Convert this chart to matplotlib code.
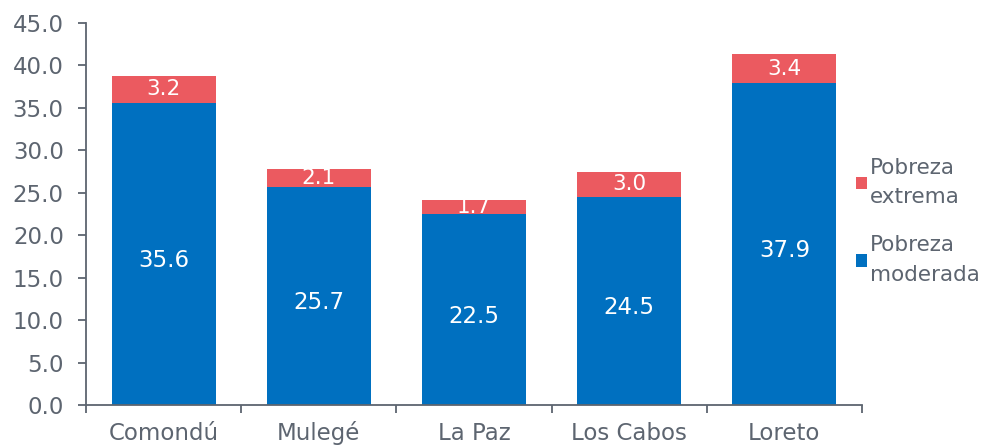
import matplotlib
matplotlib.use("Agg")
import matplotlib.pyplot as plt
import matplotlib.transforms as mtransforms
import numpy as np

plt.rcParams['font.family'] = ['DejaVu Sans']

municipios = ["Comondú", "Mulegé", "La Paz", "Los Cabos", "Loreto"]
moderada = [35.6, 25.7, 22.5, 24.5, 37.9]
extrema = [3.2, 2.1, 1.7, 3.0, 3.4]
yticks = np.arange(0, 50, 5)

azul = "#0070C0"
rojo = "#EB5A60"
gris = "#5D6570"

fig = plt.figure(figsize=(9.99, 4.47), dpi=100)
ax = fig.add_axes([86 / 999, 42 / 447, 776 / 999, 382 / 447])

x = np.arange(len(municipios))
b1 = ax.bar(x, moderada, width=0.67, color=azul, label="Pobreza\nmoderada")
b2 = ax.bar(x, extrema, width=0.67, bottom=moderada, color=rojo, label="Pobreza\nextrema")

# etiquetas dentro de las barras
for xi, m, e in zip(x, moderada, extrema):
    ax.text(xi, m / 2 - 0.8, f"{m:.1f}", ha="center", va="center",
            color="white", fontsize=16.5)
    ax.text(xi, m + e / 2, f"{e:.1f}", ha="center", va="center",
            color="white", fontsize=15.5)

ax.set_xlim(-0.5, len(municipios) - 0.5)
ax.set_ylim(0, 45)
ax.set_yticks(yticks)
ax.set_yticklabels([f"{v:.1f}" for v in yticks])
ax.set_xticks(np.arange(-0.5, len(municipios), 1))
ax.set_xticklabels([])

# nombres de municipios alineados por la linea base
trans = mtransforms.blended_transform_factory(ax.transData, ax.transAxes)
for xi, nombre in zip(x, municipios):
    ax.text(xi, -0.092, nombre, transform=trans, ha="center", va="baseline",
            fontsize=16.5, color=gris)

ax.tick_params(axis="x", length=6, color=gris, width=1.3)
ax.tick_params(axis="y", length=6, color=gris, width=1.3, labelsize=16.5, labelcolor=gris, pad=10)

for s in ["top", "right"]:
    ax.spines[s].set_visible(False)
for s in ["left", "bottom"]:
    ax.spines[s].set_color(gris)
    ax.spines[s].set_linewidth(1.3)

leg = fig.legend(handles=[b2, b1], loc="center left", bbox_to_anchor=(856 / 999, 0.505),
                 frameon=False, fontsize=15.5, handlelength=0.5, handleheight=0.5,
                 handletextpad=0.15, labelspacing=1.3, labelcolor=gris, borderpad=0,
                 borderaxespad=0)
for t in leg.get_texts():
    t.set_linespacing(1.6)

fig.savefig("out.png", dpi=100)
